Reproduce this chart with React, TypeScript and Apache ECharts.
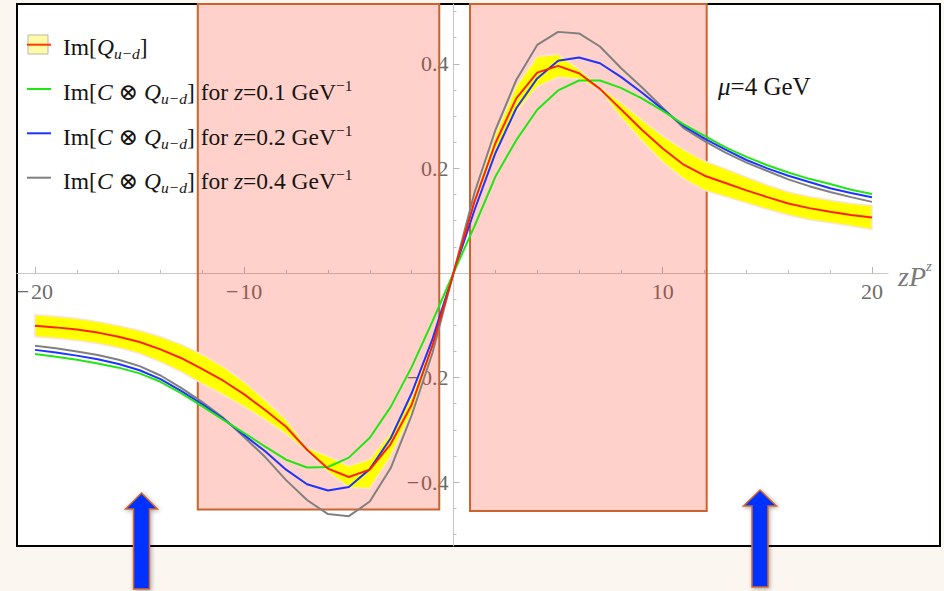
import { useEffect, useRef } from 'react';
import * as echarts from 'echarts';

// zP^z sample points
const zPz = [
  -20, -19, -18, -17, -16, -15, -14, -13, -12, -11, -10, -9, -8, -7, -6, -5, -4, -3, -2, -1, 0,
  1, 2, 3, 4, 5, 6, 7, 8, 9, 10, 11, 12, 13, 14, 15, 16, 17, 18, 19, 20,
];

// Im[Q_{u-d}] central value and its error band
const imQ = [
  -0.101, -0.104, -0.108, -0.114, -0.122, -0.132, -0.146, -0.163, -0.184, -0.206, -0.232, -0.262, -0.294, -0.338, -0.374, -0.390, -0.376, -0.327, -0.252, -0.138, 0,
  0.136, 0.248, 0.334, 0.383, 0.396, 0.382, 0.352, 0.313, 0.274, 0.238, 0.207, 0.186, 0.172, 0.158, 0.145, 0.133, 0.124, 0.117, 0.111, 0.106,
];
const imQLow = [
  -0.122, -0.125, -0.129, -0.135, -0.143, -0.154, -0.170, -0.189, -0.212, -0.233, -0.256, -0.281, -0.308, -0.342, -0.380, -0.410, -0.412, -0.350, -0.268, -0.146, 0,
  0.128, 0.232, 0.308, 0.356, 0.374, 0.371, 0.349, 0.298, 0.253, 0.212, 0.180, 0.158, 0.146, 0.134, 0.122, 0.111, 0.102, 0.096, 0.090, 0.083,
];
const imQHigh = [
  -0.080, -0.083, -0.087, -0.093, -0.101, -0.110, -0.122, -0.137, -0.156, -0.179, -0.208, -0.243, -0.280, -0.334, -0.350, -0.369, -0.356, -0.305, -0.236, -0.130, 0,
  0.145, 0.264, 0.358, 0.414, 0.418, 0.390, 0.356, 0.326, 0.293, 0.262, 0.236, 0.214, 0.199, 0.183, 0.168, 0.155, 0.146, 0.139, 0.133, 0.129,
];

// Im[C ⊗ Q_{u-d}] for z = 0.1, 0.2, 0.4 GeV^-1
const convZ01 = [
  -0.155, -0.160, -0.166, -0.173, -0.181, -0.192, -0.208, -0.230, -0.255, -0.281, -0.306, -0.332, -0.357, -0.372, -0.371, -0.353, -0.315, -0.256, -0.180, -0.092, 0,
  0.089, 0.184, 0.254, 0.312, 0.349, 0.368, 0.368, 0.354, 0.334, 0.310, 0.284, 0.262, 0.240, 0.222, 0.206, 0.192, 0.180, 0.170, 0.159, 0.151,
];
const convZ02 = [
  -0.147, -0.152, -0.158, -0.165, -0.174, -0.186, -0.203, -0.226, -0.251, -0.279, -0.310, -0.341, -0.376, -0.404, -0.416, -0.409, -0.375, -0.316, -0.230, -0.126, 0,
  0.120, 0.229, 0.315, 0.372, 0.406, 0.412, 0.401, 0.375, 0.345, 0.313, 0.281, 0.257, 0.236, 0.216, 0.200, 0.186, 0.174, 0.162, 0.153, 0.145,
];
const convZ04 = [
  -0.139, -0.144, -0.150, -0.157, -0.166, -0.178, -0.196, -0.220, -0.247, -0.277, -0.314, -0.352, -0.396, -0.434, -0.461, -0.465, -0.437, -0.373, -0.272, -0.152, 0,
  0.153, 0.273, 0.369, 0.436, 0.461, 0.458, 0.433, 0.392, 0.355, 0.316, 0.277, 0.252, 0.230, 0.211, 0.195, 0.179, 0.166, 0.155, 0.145, 0.136,
];

// Axis ticks
const xMajorTicks = [-20, -10, 10, 20];
const xMinorTicks = [-18, -16, -14, -12, -8, -6, -4, -2, 2, 4, 6, 8, 12, 14, 16, 18];
const yMajorTicks = [-0.4, -0.2, 0.2, 0.4];
const yMinorTicks = [
  -0.5, -0.45, -0.35, -0.3, -0.25, -0.15, -0.1, -0.05,
  0.05, 0.1, 0.15, 0.25, 0.3, 0.35, 0.45, 0.5,
];

// Highlighted zP^z windows
const shadedFrom = [-12.22, 0.79];
const shadedTo = [-0.68, 12.1];
const shadedBottom = [-0.452, -0.455];

const X_MIN = -20.86;
const X_MAX = 20.765;
const Y_MIN = -0.522;
const Y_MAX = 0.5143;

const W = 944;
const H = 591;
const GRID = { left: 17, right: 56, top: 4, bottom: 45 };
const PLOT_W = W - GRID.left - GRID.right;
const PLOT_H = H - GRID.top - GRID.bottom;
// shift the axes from the plot edges onto the origin
const X_AXIS_OFFSET = -(PLOT_H * (0 - Y_MIN)) / (Y_MAX - Y_MIN);
const Y_AXIS_OFFSET = -(PLOT_W * (0 - X_MIN)) / (X_MAX - X_MIN);

const SERIF = '"Liberation Serif", "DejaVu Serif", serif';
const TICK_GRAY = '#6b6b6b';
const AXIS_GRAY = '#c6c6c6';
const INK = '#151515';

const fmt = (v: number, digits: number) =>
  (v < 0 ? '\u2212\u200a' : '') + Math.abs(v).toFixed(digits);

const legendRich = {
  n: { fontFamily: SERIF, fontSize: 23.5, fill: INK },
  i: { fontFamily: SERIF, fontSize: 23.5, fontStyle: 'italic', fill: INK },
  sub: { fontFamily: SERIF, fontSize: 15.5, fontStyle: 'italic', fill: INK, padding: [12, 0, 0, 0] },
  sup: { fontFamily: SERIF, fontSize: 15.5, fill: INK, padding: [0, 0, 14, 0] },
};

const legendRows = [
  { y: 47, text: '{n|Im[}{i|Q}{sub|u\u2212d}{n|]}' },
  { y: 92, text: '{n|Im[}{i|C}{n| \u2297 }{i|Q}{sub|u\u2212d}{n|] for }{i|z}{n|=0.1 GeV}{sup|\u22121}' },
  { y: 137, text: '{n|Im[}{i|C}{n| \u2297 }{i|Q}{sub|u\u2212d}{n|] for }{i|z}{n|=0.2 GeV}{sup|\u22121}' },
  { y: 181, text: '{n|Im[}{i|C}{n| \u2297 }{i|Q}{sub|u\u2212d}{n|] for }{i|z}{n|=0.4 GeV}{sup|\u22121}' },
];

const legendKeys = [
  { y: 89, color: '#22e614' },
  { y: 133.3, color: '#1f33ff' },
  { y: 177.7, color: '#808080' },
];

const arrow = (tipX: number, tipY: number, headHalf: number, shaftHalf: number, headBase: number, bottom: number) => ({
  type: 'polygon',
  z: 100,
  silent: true,
  shape: {
    points: [
      [tipX, tipY],
      [tipX + headHalf, headBase],
      [tipX + shaftHalf, headBase],
      [tipX + shaftHalf, bottom],
      [tipX - shaftHalf, bottom],
      [tipX - shaftHalf, headBase],
      [tipX - headHalf, headBase],
    ],
  },
  style: {
    fill: '#0633ff',
    stroke: '#cf6a2c',
    lineWidth: 1.5,
    shadowBlur: 4,
    shadowOffsetX: 1,
    shadowOffsetY: 1,
    shadowColor: 'rgba(0,0,0,0.35)',
  },
});

const lineSeries = (name: string, values: number[], color: string, z: number) => ({
  name,
  type: 'line',
  data: zPz.map((x, i) => [x, values[i]]),
  symbol: 'none',
  silent: true,
  z,
  lineStyle: { color, width: 2 },
});

export default function App() {
  const ref = useRef<HTMLDivElement>(null);

  useEffect(() => {
    if (!ref.current) return;
    const chart = echarts.init(ref.current, undefined, { renderer: 'svg' });

    const baseX = {
      type: 'value',
      min: X_MIN,
      max: X_MAX,
      position: 'bottom',
      offset: X_AXIS_OFFSET,
      splitLine: { show: false },
    };
    const baseY = {
      type: 'value',
      min: Y_MIN,
      max: Y_MAX,
      position: 'left',
      offset: Y_AXIS_OFFSET,
      splitLine: { show: false },
    };

    chart.setOption({
      animation: false,
      backgroundColor: '#fbf6f0',
      grid: { ...GRID, containLabel: false, outerBoundsMode: 'none' },
      xAxis: [
        {
          ...baseX,
          axisLine: { show: true, onZero: false, lineStyle: { color: AXIS_GRAY, width: 1 } },
          axisTick: { show: true, inside: true, length: 6, customValues: xMajorTicks, lineStyle: { color: '#b5b5b5' } },
          axisLabel: {
            show: true,
            customValues: xMajorTicks,
            formatter: (v: number) => fmt(v, 0),
            margin: 8,
            fontFamily: SERIF,
            fontSize: 22,
            color: TICK_GRAY,
          },
          name: '{a|zP}{b|z}',
          nameLocation: 'end',
          nameGap: 10,
          nameTextStyle: {
            rich: {
              a: { fontFamily: SERIF, fontStyle: 'italic', fontSize: 28, color: '#7a7a7a', padding: [8, 0, 0, 0] },
              b: { fontFamily: SERIF, fontStyle: 'italic', fontSize: 15, color: '#7a7a7a', padding: [0, 0, 14, 0] },
            },
          },
        },
        {
          ...baseX,
          axisLine: { show: false, onZero: false },
          axisTick: { show: true, inside: true, length: 3, customValues: xMinorTicks, lineStyle: { color: '#bdbdbd' } },
          axisLabel: { show: false },
        },
      ],
      yAxis: [
        {
          ...baseY,
          axisLine: { show: true, onZero: false, lineStyle: { color: AXIS_GRAY, width: 1 } },
          axisTick: { show: true, inside: true, length: 6, customValues: yMajorTicks, lineStyle: { color: '#b5b5b5' } },
          axisLabel: {
            show: true,
            customValues: yMajorTicks,
            formatter: (v: number) => fmt(v, 1),
            margin: 5,
            fontFamily: SERIF,
            fontSize: 22,
            color: TICK_GRAY,
          },
        },
        {
          ...baseY,
          axisLine: { show: false, onZero: false },
          axisTick: { show: true, inside: true, length: 3, customValues: yMinorTicks, lineStyle: { color: '#bdbdbd' } },
          axisLabel: { show: false },
        },
      ],
      series: [
        {
          name: 'band',
          type: 'custom',
          silent: true,
          z: 2,
          data: [[0, 0]],
          renderItem: (_params: any, api: any) => {
            const pts: number[][] = [];
            zPz.forEach((x, i) => pts.push(api.coord([x, imQHigh[i]])));
            for (let i = zPz.length - 1; i >= 0; i--) pts.push(api.coord([zPz[i], imQLow[i]]));
            return {
              type: 'polygon',
              shape: { points: pts },
              style: { fill: '#ffff00', stroke: '#fbe3d2', lineWidth: 1.5 },
            };
          },
        },
        lineSeries('z=0.4', convZ04, '#808080', 3),
        lineSeries('z=0.2', convZ02, '#1f33ff', 3),
        lineSeries('z=0.1', convZ01, '#22e614', 3),
        lineSeries('Im Q', imQ, '#ff2200', 4),
        {
          name: 'windows',
          type: 'line',
          data: [[0, 0]],
          symbol: 'none',
          silent: true,
          z: 10,
          lineStyle: { opacity: 0 },
          markArea: {
            silent: true,
            label: { show: false },
            itemStyle: { color: 'rgba(255,45,15,0.22)', borderColor: '#c9652c', borderWidth: 2 },
            data: shadedFrom.map((from, i) => [
              { xAxis: from, yAxis: shadedBottom[i] },
              { xAxis: shadedTo[i], yAxis: Y_MAX },
            ]),
          },
        },
      ],
      graphic: [
        {
          type: 'rect',
          z: -10,
          silent: true,
          shape: { x: 17, y: 4, width: 923, height: 542 },
          style: { fill: '#ffffff', stroke: '#000000', lineWidth: 2 },
        },
        {
          type: 'rect',
          z: 5,
          silent: true,
          shape: { x: 28, y: 35, width: 20, height: 19 },
          style: { fill: '#fffaa6', stroke: '#b9b9a8', lineWidth: 1 },
        },
        {
          type: 'line',
          z: 5,
          silent: true,
          shape: { x1: 27, y1: 44.7, x2: 51, y2: 44.7 },
          style: { stroke: '#ff3a00', lineWidth: 2 },
        },
        ...legendKeys.map((k) => ({
          type: 'line',
          z: 5,
          silent: true,
          shape: { x1: 27, y1: k.y, x2: 51, y2: k.y },
          style: { stroke: k.color, lineWidth: 2 },
        })),
        ...legendRows.map((row) => ({
          type: 'text',
          z: 5,
          silent: true,
          x: 63,
          y: row.y,
          style: {
            text: row.text,
            rich: legendRich,
            verticalAlign: 'middle',
            align: 'left',
          },
        })),
        {
          type: 'text',
          z: 5,
          silent: true,
          x: 718,
          y: 86,
          style: {
            text: '{i|\u03bc}{n|=4 GeV}',
            rich: {
              n: { fontFamily: SERIF, fontSize: 25, fill: INK },
              i: { fontFamily: SERIF, fontSize: 25, fontStyle: 'italic', fill: INK },
            },
            verticalAlign: 'middle',
            align: 'left',
          },
        },
        arrow(141.5, 493, 16, 8, 509, 589),
        arrow(760, 490, 16.5, 8, 506, 587),
      ],
    });

    return () => chart.dispose();
  }, []);

  return (
    <div
      ref={ref}
      style={{ position: 'absolute', left: 0, top: 0, width: W, height: H }}
    />
  );
}
